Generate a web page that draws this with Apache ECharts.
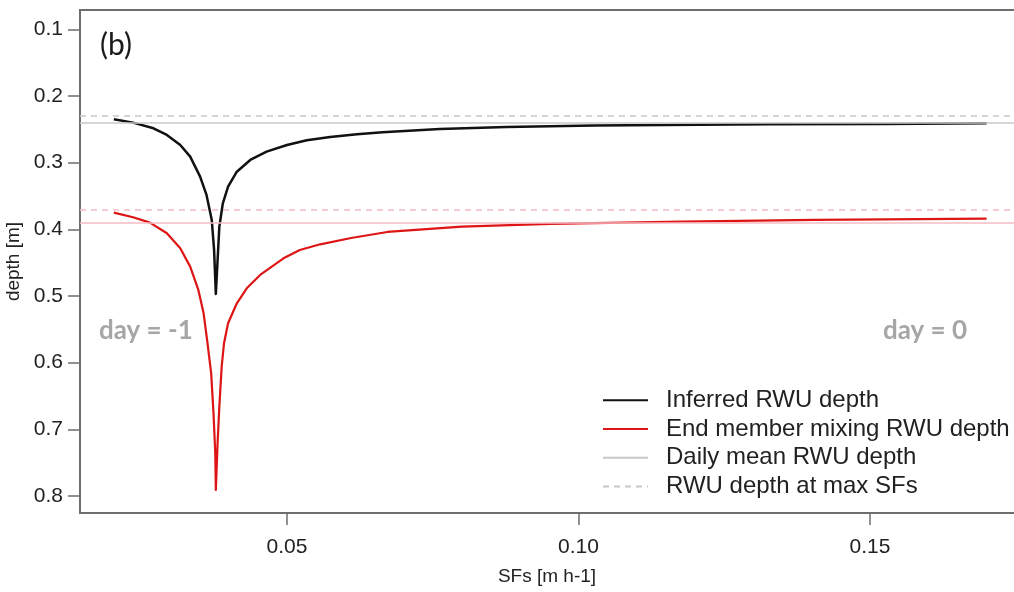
<!DOCTYPE html>
<html>
<head>
<meta charset="utf-8">
<script src="https://cdn.jsdelivr.net/npm/echarts@6/dist/echarts.min.js"></script>
<style>
html,body{margin:0;padding:0;background:#fff;}
#chart{width:1014px;height:592px;}
</style>
</head>
<body>
<div id="chart"></div>
<script>
// ---- data ----
const xTicks = [0.05, 0.10, 0.15];
const yTicks = [0.1, 0.2, 0.3, 0.4, 0.5, 0.6, 0.7, 0.8];

const sfsInferred = [0.0203,0.0236,0.0271,0.0294,0.0317,0.0334,0.0351,0.0362,0.0371,0.0375,0.0378,0.0381,0.0384,0.0390,0.0399,0.0414,0.0437,0.0465,0.0500,0.0534,0.0574,0.0620,0.0664,0.0762,0.0876,0.1027,0.1208,0.1328,0.1525,0.1700];
const depthInferred = [0.235,0.240,0.2485,0.2585,0.2736,0.291,0.321,0.3485,0.386,0.431,0.497,0.446,0.396,0.361,0.336,0.3136,0.296,0.2836,0.2736,0.2665,0.2615,0.2575,0.2545,0.2495,0.2465,0.2445,0.2432,0.2425,0.242,0.241];

const sfsEmm = [0.0203,0.0236,0.0265,0.0294,0.0317,0.0334,0.0348,0.0357,0.0363,0.0370,0.0374,0.0377,0.0378,0.0381,0.0384,0.0388,0.0392,0.0399,0.0414,0.0431,0.0454,0.0494,0.0522,0.0557,0.0610,0.0672,0.0800,0.0951,0.1178,0.1404,0.1700];
const depthEmm = [0.375,0.382,0.390,0.406,0.4285,0.456,0.491,0.526,0.566,0.616,0.676,0.736,0.791,0.720,0.666,0.606,0.571,0.541,0.511,0.4885,0.4685,0.4435,0.431,0.4225,0.413,0.404,0.396,0.392,0.3886,0.386,0.384];

const meanInferred = 0.2425;
const maxSfInferred = 0.2315;
const meanEmm = 0.3865;
const maxSfEmm = 0.367;

const seriesNames = ['Inferred RWU depth','End member mixing RWU depth','Daily mean RWU depth','RWU depth at max SFs'];

const zip = (a,b) => a.map((v,i)=>[v,b[i]]);

const chart = echarts.init(document.getElementById('chart'));
const axisColor = '#6e6e6e';
const option = {
  backgroundColor: '#ffffff',
  animation: false,
  grid: {left: 80, top: 10, right: -12, bottom: 79, show: true, borderColor: axisColor, borderWidth: 2, containLabel: false, outerBoundsMode: 'none'},
  xAxis: {
    type: 'value', min: 0.0145, max: 0.17676,
    name: 'SFs [m h-1]', nameLocation: 'middle', nameGap: 54,
    nameTextStyle: {fontFamily: 'Liberation Sans', fontSize: 19, color: '#222', padding: [0,0,0,-12]},
    axisLine: {show: true, lineStyle: {color: axisColor, width: 2}},
    axisTick: {show: true, inside: false, length: 12, lineStyle: {color: axisColor, width: 1.5}, customValues: xTicks},
    axisLabel: {customValues: xTicks, margin: 24, fontFamily: 'Liberation Sans', fontSize: 21, color: '#222', formatter: v => v.toFixed(2)},
    splitLine: {show: false}
  },
  yAxis: {
    type: 'value', inverse: true, min: 0.0711, max: 0.8255,
    name: 'depth [m]', nameLocation: 'middle', nameGap: 56,
    nameTextStyle: {fontFamily: 'Liberation Sans', fontSize: 19, color: '#222'},
    axisLine: {show: true, lineStyle: {color: axisColor, width: 2}},
    axisTick: {show: true, inside: false, length: 12, lineStyle: {color: axisColor, width: 1.5}, customValues: yTicks},
    axisLabel: {customValues: yTicks, margin: 17, fontFamily: 'Liberation Sans', fontSize: 21, color: '#222', formatter: v => v.toFixed(1)},
    splitLine: {show: false}
  },
  legend: {
    orient: 'vertical', left: 597, top: 381,
    data: seriesNames,
    itemWidth: 45, itemHeight: 14, itemGap: 0,
    itemStyle: {opacity: 0},
    textStyle: {fontFamily: 'Liberation Sans', fontSize: 24, color: '#222', lineHeight: 28.7, padding: [0,0,0,13]},
    selectedMode: false
  },
  graphic: [
    {type: 'text', left: 100, top: 30, style: {text: '(b)', fontFamily: 'Lato', fontSize: 30, fill: '#1a1a1a'}},
    {type: 'text', left: 99, top: 318, style: {text: 'day = -1', fontFamily: 'Lato', fontWeight: 'bold', fontSize: 26, fill: '#a6a6a6'}},
    {type: 'text', left: 883, top: 318, style: {text: 'day = 0', fontFamily: 'Lato', fontWeight: 'bold', fontSize: 26, fill: '#a6a6a6'}}
  ],
  series: [
    {
      name: seriesNames[2], type: 'line', data: [], symbol: 'none',
      lineStyle: {color: '#c8c8c8', width: 1.5}, itemStyle: {color: '#c8c8c8'},
      markLine: {silent: true, symbol: 'none', label: {show: false},
        data: [
          {yAxis: meanInferred, lineStyle: {color: '#c8c8c8', width: 1.5, type: 'solid'}},
          {yAxis: meanEmm, lineStyle: {color: '#f4bcc4', width: 1.5, type: 'solid'}}
        ]}
    },
    {
      name: seriesNames[3], type: 'line', data: [], symbol: 'none',
      lineStyle: {color: '#c8c8c8', width: 1.5, type: [6,5]}, itemStyle: {color: '#c8c8c8'},
      markLine: {silent: true, symbol: 'none', label: {show: false},
        data: [
          {yAxis: maxSfInferred, lineStyle: {color: '#c8c8c8', width: 1.5, type: [6,5]}},
          {yAxis: maxSfEmm, lineStyle: {color: '#f4bcc4', width: 1.5, type: [6,5]}}
        ]}
    },
    {
      name: seriesNames[0], type: 'line', data: zip(sfsInferred, depthInferred),
      symbol: 'none', smooth: false,
      lineStyle: {color: '#111111', width: 2.5, join: 'round'}, itemStyle: {color: '#111111'}
    },
    {
      name: seriesNames[1], type: 'line', data: zip(sfsEmm, depthEmm),
      symbol: 'none', smooth: false,
      lineStyle: {color: '#dd1515', width: 2.2, join: 'round'}, itemStyle: {color: '#dd1515'}
    }
  ]
};
chart.setOption(option);
</script>
</body>
</html>
